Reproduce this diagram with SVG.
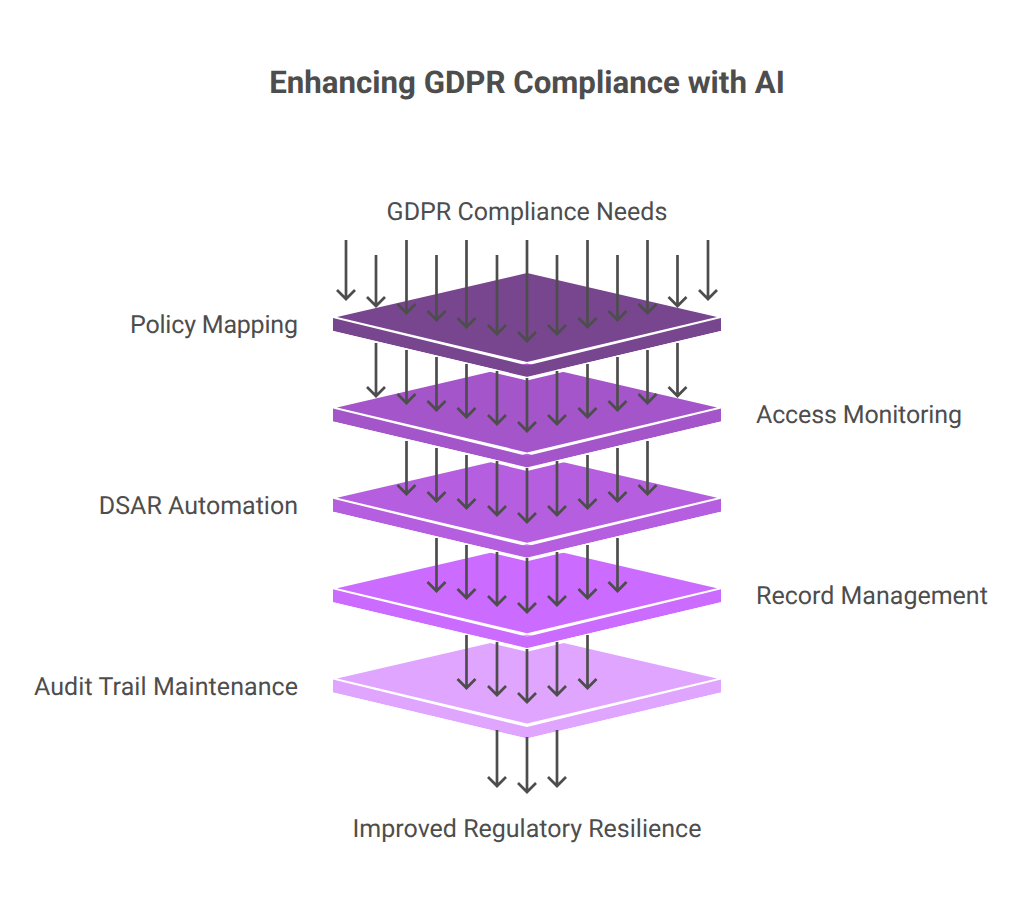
<svg xmlns="http://www.w3.org/2000/svg" xmlns:xlink="http://www.w3.org/1999/xlink" width="1024" height="904" viewBox="0 0 1024 904">
<style>
text{font-family:Roboto,"Liberation Sans",sans-serif;fill:#4d4d4d;font-size:25px;text-rendering:geometricPrecision}
.t{font-weight:700;font-size:31.250px;text-anchor:middle}
.m{text-anchor:middle}.r{text-anchor:end}
.e{fill:none;stroke:#fff;stroke-width:3.500}
.a path{fill:none;stroke:#4d4d4d;stroke-width:2.700}
</style>
<defs>
<g id="plate"><path d="M337 317L527 273L717 317L527 362Z"/><path d="M333 318L527 365.500L721 318V331L527 377L333 331Z"/><path class="e" d="M333 332.700L527 378.700L721 332.700"/></g>
</defs>
<rect width="1024" height="904" fill="#fff"/>
<text class="t" x="527" y="92.600">Enhancing GDPR Compliance with AI</text>
<text id="input" class="m" x="527" y="220">GDPR Compliance Needs</text>
<text id="output" class="m" x="527" y="837.200">Improved Regulatory Resilience</text>
<g id="plate5" fill="#e0a5ff"><use xlink:href="#plate" y="361.600"/><text class="r" x="298" y="694.600" textLength="264">Audit Trail Maintenance</text></g>
<g id="plate4" fill="#cb6bff"><use xlink:href="#plate" y="271.200"/><text x="756" y="604">Record Management</text></g>
<g id="plate3" fill="#b55fe0"><use xlink:href="#plate" y="180.800"/><text class="r" x="298" y="513.600">DSAR Automation</text></g>
<g id="plate2" fill="#a355c9"><use xlink:href="#plate" y="90.400"/><text x="756" y="423.200" textLength="206">Access Monitoring</text></g>
<g id="plate1" fill="#78468f"><use xlink:href="#plate"/><text class="r" x="298" y="333" textLength="168">Policy Mapping</text></g>
<g id="connectors" class="a">
<path d="M346 240V299M337 290L346 299L355 290"/>
<path d="M376 255V306M367 297L376 306L385 297"/>
<path d="M406.500 240V313M397.500 304L406.500 313L415.500 304"/>
<path d="M436.500 255V320M427.500 311L436.500 320L445.500 311"/>
<path d="M466.500 240V327M457.500 318L466.500 327L475.500 318"/>
<path d="M497 255V334M488 325L497 334L506 325"/>
<path d="M527 240V341M518 332L527 341L536 332"/>
<path d="M557 255V334M548 325L557 334L566 325"/>
<path d="M587.500 240V327M578.500 318L587.500 327L596.500 318"/>
<path d="M617.500 255V320M608.500 311L617.500 320L626.500 311"/>
<path d="M647.500 240V313M638.500 304L647.500 313L656.500 304"/>
<path d="M677.500 255V306M668.500 297L677.500 306L686.500 297"/>
<path d="M708 240V299M699 290L708 299L717 290"/>
<path d="M376 343V396M367 387L376 396L385 387"/>
<path d="M406.500 350V403M397.500 394L406.500 403L415.500 394"/>
<path d="M436.500 357V410M427.500 401L436.500 410L445.500 401"/>
<path d="M466.500 364V417M457.500 408L466.500 417L475.500 408"/>
<path d="M497 371V424M488 415L497 424L506 415"/>
<path d="M527 378V431M518 422L527 431L536 422"/>
<path d="M557 371V424M548 415L557 424L566 415"/>
<path d="M587.500 364V417M578.500 408L587.500 417L596.500 408"/>
<path d="M617.500 357V410M608.500 401L617.500 410L626.500 401"/>
<path d="M647.500 350V403M638.500 394L647.500 403L656.500 394"/>
<path d="M677.500 343V396M668.500 387L677.500 396L686.500 387"/>
<path d="M406.500 441V494M397.500 485L406.500 494L415.500 485"/>
<path d="M436.500 448V501M427.500 492L436.500 501L445.500 492"/>
<path d="M466.500 455V508M457.500 499L466.500 508L475.500 499"/>
<path d="M497 461V515M488 506L497 515L506 506"/>
<path d="M527 468V522M518 513L527 522L536 513"/>
<path d="M557 461V515M548 506L557 515L566 506"/>
<path d="M587.500 455V508M578.500 499L587.500 508L596.500 499"/>
<path d="M617.500 448V501M608.500 492L617.500 501L626.500 492"/>
<path d="M647.500 441V494M638.500 485L647.500 494L656.500 485"/>
<path d="M436.500 538V591M427.500 582L436.500 591L445.500 582"/>
<path d="M466.500 545V598M457.500 589L466.500 598L475.500 589"/>
<path d="M497 552V605M488 596L497 605L506 596"/>
<path d="M527 558V612M518 603L527 612L536 603"/>
<path d="M557 552V605M548 596L557 605L566 596"/>
<path d="M587.500 545V598M578.500 589L587.500 598L596.500 589"/>
<path d="M617.500 538V591M608.500 582L617.500 591L626.500 582"/>
<path d="M466.500 635V688M457.500 679L466.500 688L475.500 679"/>
<path d="M497 642V695M488 686L497 695L506 686"/>
<path d="M527 649V702M518 693L527 702L536 693"/>
<path d="M557 642V695M548 686L557 695L566 686"/>
<path d="M587.500 635V688M578.500 679L587.500 688L596.500 679"/>
<path d="M497 730V786M488 777L497 786L506 777"/>
<path d="M527 737V792M518 783L527 792L536 783"/>
<path d="M557 730V786M548 777L557 786L566 777"/>
</g>
</svg>
